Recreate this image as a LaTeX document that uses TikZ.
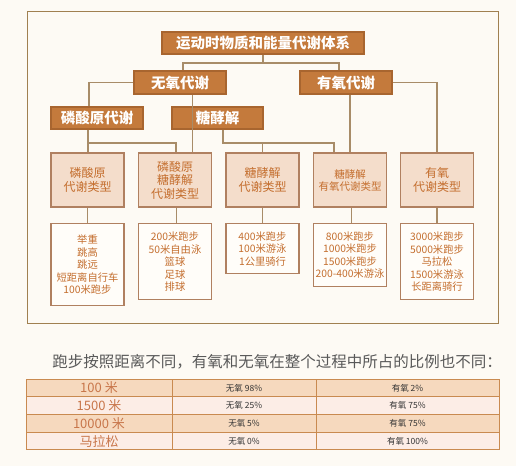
\documentclass[tikz,border=0pt]{standalone}
\usepackage{fontspec}
\setmainfont{Noto Sans CJK SC}
\usepackage{tikz}

\definecolor{bgcol}{HTML}{FDFAF4}
\definecolor{framecol}{HTML}{A08050}
\definecolor{darkfill}{HTML}{C47A3C}
\definecolor{darkline}{HTML}{A8652F}
\definecolor{linkcol}{HTML}{A88C68}
\definecolor{typefill}{HTML}{F4DDCB}
\definecolor{typeline}{HTML}{B08060}
\definecolor{typetext}{HTML}{C46E2E}
\definecolor{sportfill}{HTML}{FFFDF9}
\definecolor{rowA}{HTML}{F6D9BE}
\definecolor{rowB}{HTML}{FCEDE6}
\definecolor{tabline}{HTML}{C98A50}
\definecolor{tabtext}{HTML}{C8764A}

\begin{document}
\begin{tikzpicture}[x=1pt,y=-1pt,
  darkbox/.style={draw=darkline, line width=1.3pt, fill=darkfill, text=white,
    inner sep=0pt, minimum height=22pt, font=\fontsize{14.5}{16}\selectfont\bfseries},
  typebox/.style={draw=typeline, line width=1.3pt, fill=typefill, text=typetext,
    inner sep=0pt, minimum width=73pt, minimum height=54pt, align=center,
    font=\fontsize{12}{13.5}\selectfont},
  sportbox/.style={draw=typeline, line width=1.3pt, fill=sportfill, text=typetext,
    inner sep=0pt, minimum width=73pt, anchor=north, align=center,
    font=\fontsize{10.3}{12.5}\selectfont},
  link/.style={draw=linkcol, line width=1.2pt},
  cell/.style={draw=tabline, line width=1pt, inner sep=0pt, minimum height=17.75pt},
  distcell/.style={cell, text=tabtext, font=\fontsize{13}{14}\selectfont},
  ratecell/.style={cell, text=black!80, font=\fontsize{8.5}{9}\selectfont}]
\useasboundingbox[fill=bgcol] (0,0) rectangle (516,466);
\draw[framecol, line width=1pt] (27,11) rectangle (498,323);

% upper levels
\node[darkbox, minimum width=202pt] (sys) at (263,43) {运动时物质和能量代谢体系};
\node[darkbox, minimum width=92pt, minimum height=23pt] (anaer) at (180,82.5) {无氧代谢};
\node[darkbox, minimum width=92pt, minimum height=23pt] (aer) at (346,82.5) {有氧代谢};
\node[darkbox, minimum width=92pt] (phos) at (97,118) {磷酸原代谢};
\node[darkbox, minimum width=91pt] (glyc) at (217.5,118) {糖酵解};

% types
\node[typebox] (t1) at (87.5,180) {磷酸原\\代谢类型};
\node[typebox] (t2) at (175,180) {磷酸原\\糖酵解\\代谢类型};
\node[typebox] (t3) at (262.5,180) {糖酵解\\代谢类型};
\node[typebox, font=\fontsize{10.5}{12}\selectfont] (t4) at (350,180) {糖酵解\\有氧代谢类型};
\node[typebox] (t5) at (437,180) {有氧\\代谢类型};

% sports
\node[sportbox, minimum height=82pt] (s1) at (87.5,223) {举重\\跳高\\跳远\\短距离自行车\\100米跑步};
\node[sportbox, minimum height=76pt] (s2) at (175,223) {200米跑步\\50米自由泳\\篮球\\足球\\排球};
\node[sportbox, minimum height=50pt] (s3) at (262.5,223) {400米跑步\\100米游泳\\1公里骑行};
\node[sportbox, minimum height=63pt] (s4) at (350,223) {800米跑步\\1000米跑步\\1500米跑步\\200-400米游泳};
\node[sportbox, minimum height=76pt] (s5) at (437,223) {3000米跑步\\5000米跑步\\马拉松\\1500米游泳\\长距离骑行};

% links
\coordinate (j1) at (263,63);
\coordinate (j2) at (88,143);
\coordinate (j3) at (223,143);
\path[link] (sys) -- (j1);
\path[link] ([xshift=3pt]anaer.north) |- (j1) -| ([xshift=-7pt]aer.north);
\path[link] (anaer.west) -| ([xshift=-8pt]phos.north);
\path[link] ([xshift=12.5pt]anaer.south) -- ([xshift=12.5pt]anaer.south |- t2.north);
\path[link] (aer.east) -| (t5.north);
\path[link] ([xshift=4pt]aer.south) -- ([xshift=4pt]aer.south |- t4.north);
\path[link] (j2 |- phos.south) -- (j2 |- t1.north);
\path[link] (j2) -| ([xshift=1pt]t2.north);
\path[link] (j3 |- glyc.south) -- (j3) -| ([xshift=-16pt]t4.north);
\path[link] (j3 -| t3.north) -- (t3.north);
\path[link] (t1) -- (s1);
\path[link] ([xshift=1.5pt]t2.south) -- ([xshift=1.5pt]s2.north);
\path[link] (t3) -- (s3);
\path[link] ([xshift=1.5pt]t4.south) -- ([xshift=1.5pt]s4.north);
\path[link] (t5) -- (s5);

% ratio table
\node[text=black!65, font=\fontsize{15.5}{17}\selectfont] (head) at (277,362)
  {跑步按照距离不同，有氧和无氧在整个过程中所占的比例也不同：};
\node[distcell, fill=rowA, minimum width=146pt] (d1) at (99,387.9) {100 米};
\node[distcell, fill=rowB, minimum width=146pt] (d2) at (99,405.6) {1500 米};
\node[distcell, fill=rowA, minimum width=146pt] (d3) at (99,423.4) {10000 米};
\node[distcell, fill=rowB, minimum width=146pt] (d4) at (99,441.1) {马拉松};
\node[ratecell, fill=rowA, minimum width=144pt] (an1) at (244,387.9) {无氧 98\%};
\node[ratecell, fill=rowB, minimum width=144pt] (an2) at (244,405.6) {无氧 25\%};
\node[ratecell, fill=rowA, minimum width=144pt] (an3) at (244,423.4) {无氧 5\%};
\node[ratecell, fill=rowB, minimum width=144pt] (an4) at (244,441.1) {无氧 0\%};
\node[ratecell, fill=rowA, minimum width=183pt] (ae1) at (407.5,387.9) {有氧 2\%};
\node[ratecell, fill=rowB, minimum width=183pt] (ae2) at (407.5,405.6) {有氧 75\%};
\node[ratecell, fill=rowA, minimum width=183pt] (ae3) at (407.5,423.4) {有氧 75\%};
\node[ratecell, fill=rowB, minimum width=183pt] (ae4) at (407.5,441.1) {有氧 100\%};
\end{tikzpicture}
\end{document}
